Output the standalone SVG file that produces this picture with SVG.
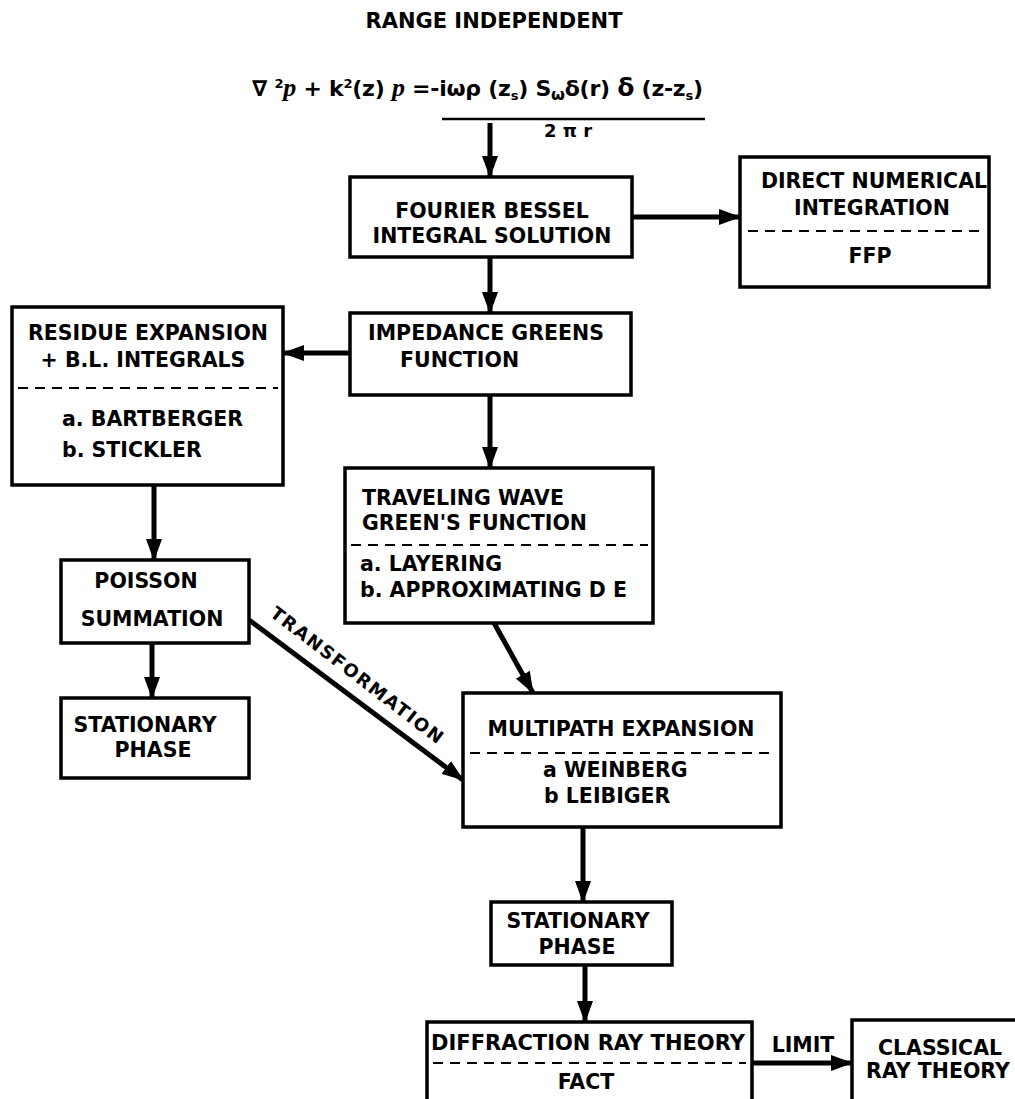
<svg xmlns="http://www.w3.org/2000/svg" width="1015" height="1099" viewBox="0 0 1015 1099">
<style>
text{font-family:"DejaVu Sans","Liberation Sans",Arial,sans-serif;font-weight:bold;fill:#000;}
.t{font-size:20.5px;}
.c{text-anchor:middle;}
.box{fill:#fff;stroke:#000;stroke-width:3.5;}
.dash{stroke:#000;stroke-width:2;stroke-dasharray:10 7;fill:none;}
.arr{stroke:#000;stroke-width:5;fill:none;marker-end:url(#ah);}
.scr{font-family:"Liberation Serif",serif;font-style:italic;font-size:26px;}
</style>
<defs>
<marker id="ah" markerUnits="userSpaceOnUse" markerWidth="22" markerHeight="16" refX="21" refY="8" orient="auto">
<path d="M0,0 L22,8 L0,16 z" fill="#000"/>
</marker>
</defs>
<rect width="1015" height="1099" fill="#fff"/>
<text x="494" y="28" class="c" font-size="21">RANGE INDEPENDENT</text>
<g id="equation">
<text x="252" y="96" font-size="22" textLength="451" lengthAdjust="spacing">∇ <tspan font-size="13" dy="-8">2</tspan><tspan dy="8" class="scr">p</tspan> + k<tspan font-size="13" dy="-8">2</tspan><tspan dy="8">(z) </tspan><tspan class="scr">p</tspan> =-iωρ (z<tspan font-size="13" dy="4">s</tspan><tspan dy="-4">) S</tspan><tspan font-size="16" dy="4">ω</tspan><tspan dy="-4">δ(r) </tspan><tspan font-size="25">δ</tspan> (z-z<tspan font-size="13" dy="4">s</tspan><tspan dy="-4">)</tspan></text>
<line x1="442" y1="119" x2="705" y2="119" stroke="#000" stroke-width="2.5"/>
<text x="568" y="137" class="c" font-size="18">2 π r</text>
</g>
<g id="n-fourier">
<rect class="box" x="350" y="177" width="282" height="80"/>
<text class="t c" x="492" y="218">FOURIER BESSEL</text>
<text class="t c" x="492" y="243">INTEGRAL SOLUTION</text>
</g>
<g id="n-direct">
<rect class="box" x="740" y="157" width="249" height="130"/>
<text class="t c" x="874" y="188">DIRECT NUMERICAL</text>
<text class="t c" x="872" y="215">INTEGRATION</text>
<line class="dash" x1="748" y1="231" x2="983" y2="231"/>
<text class="t c" x="870" y="263">FFP</text>
</g>
<g id="n-impedance">
<rect class="box" x="350" y="313" width="281" height="82"/>
<text class="t c" x="486" y="340">IMPEDANCE GREENS</text>
<text class="t" x="400" y="367">FUNCTION</text>
</g>
<g id="n-residue">
<rect class="box" x="12" y="307" width="271" height="178"/>
<text class="t c" x="148" y="340">RESIDUE EXPANSION</text>
<text class="t c" x="143" y="367">+ B.L. INTEGRALS</text>
<line class="dash" x1="18" y1="388" x2="278" y2="388"/>
<text class="t" x="62" y="426">a. BARTBERGER</text>
<text class="t" x="62" y="457">b. STICKLER</text>
</g>
<g id="n-traveling">
<rect class="box" x="345" y="468" width="308" height="155"/>
<text class="t" x="362" y="505">TRAVELING WAVE</text>
<text class="t" x="362" y="530">GREEN'S FUNCTION</text>
<line class="dash" x1="351" y1="545" x2="648" y2="545"/>
<text class="t" x="360" y="571">a. LAYERING</text>
<text class="t" x="360" y="597">b. APPROXIMATING D E</text>
</g>
<g id="n-poisson">
<rect class="box" x="61" y="560" width="188" height="83"/>
<text class="t c" x="146" y="588">POISSON</text>
<text class="t c" x="152" y="626">SUMMATION</text>
</g>
<g id="n-stationary1">
<rect class="box" x="61" y="698" width="188" height="80"/>
<text class="t c" x="145" y="732">STATIONARY</text>
<text class="t c" x="153" y="757">PHASE</text>
</g>
<g id="n-multipath">
<rect class="box" x="463" y="693" width="318" height="134"/>
<text class="t c" x="621" y="736">MULTIPATH EXPANSION</text>
<line class="dash" x1="470" y1="753" x2="775" y2="753"/>
<text class="t" x="543" y="777">a WEINBERG</text>
<text class="t" x="544" y="803">b LEIBIGER</text>
</g>
<g id="n-stationary2">
<rect class="box" x="491" y="902" width="181" height="63"/>
<text class="t c" x="578" y="928">STATIONARY</text>
<text class="t c" x="577" y="954">PHASE</text>
</g>
<g id="n-diffraction">
<rect class="box" x="427" y="1022" width="325" height="90"/>
<text class="c" font-size="21" x="588" y="1050">DIFFRACTION RAY THEORY</text>
<line class="dash" x1="433" y1="1063" x2="746" y2="1063"/>
<text class="t c" x="586" y="1089">FACT</text>
</g>
<g id="n-classical">
<rect class="box" x="852" y="1020" width="180" height="90"/>
<text class="t c" x="940" y="1055">CLASSICAL</text>
<text class="t c" x="938" y="1078">RAY THEORY</text>
</g>
<g id="connectors">
<line class="arr" x1="490" y1="123" x2="490" y2="177"/>
<line class="arr" x1="632" y1="217" x2="740" y2="217"/>
<line class="arr" x1="490" y1="257" x2="490" y2="313"/>
<line class="arr" x1="350" y1="353" x2="283" y2="353"/>
<line class="arr" x1="490" y1="395" x2="490" y2="468"/>
<line class="arr" x1="154" y1="485" x2="154" y2="560"/>
<line class="arr" x1="152" y1="643" x2="152" y2="698"/>
<line class="arr" x1="249" y1="620" x2="463" y2="780"/>
<text x="0" y="0" class="c" font-size="18" transform="translate(353,680) rotate(37.5)" textLength="212" lengthAdjust="spacing">TRANSFORMATION</text>
<line class="arr" x1="494" y1="623" x2="533" y2="693"/>
<line class="arr" x1="583" y1="827" x2="583" y2="902"/>
<line class="arr" x1="585" y1="965" x2="585" y2="1022"/>
<line class="arr" x1="752" y1="1063" x2="852" y2="1063"/>
<text x="803" y="1052" class="t c">LIMIT</text>
</g>
</svg>
